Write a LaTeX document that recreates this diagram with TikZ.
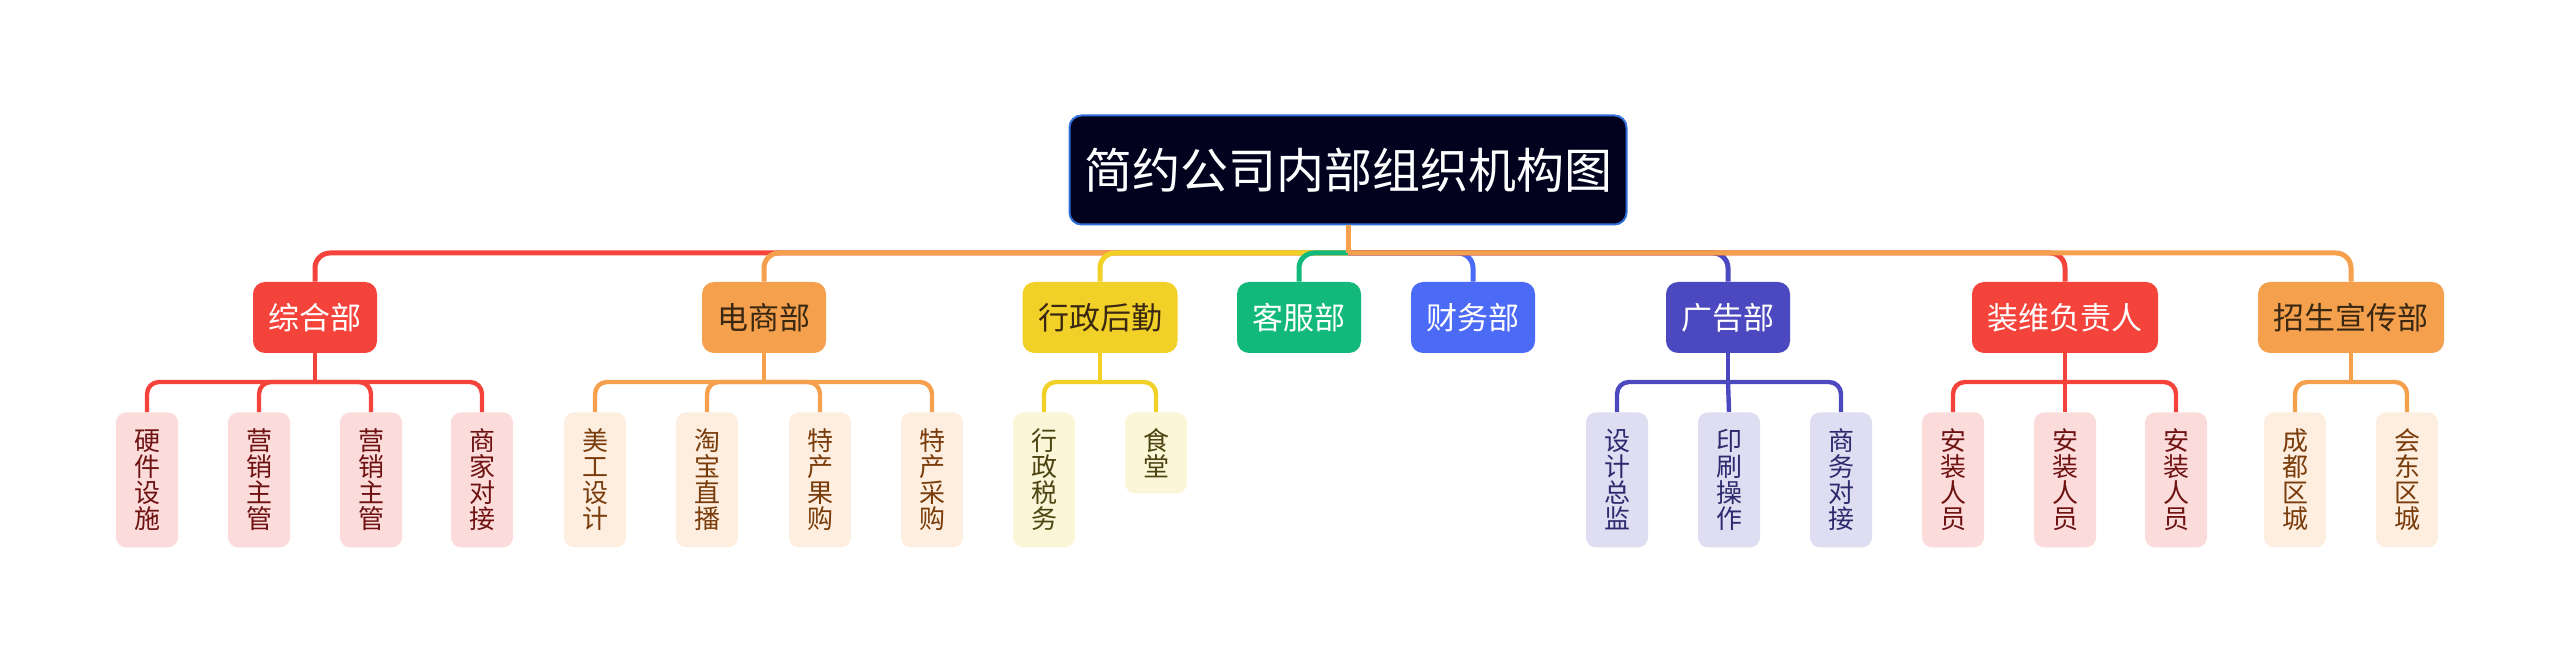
\documentclass[tikz,border=0pt]{standalone}
\usepackage{fontspec}
\setmainfont{Noto Sans CJK SC}
\definecolor{cRed}{HTML}{F4433B}
\definecolor{cOrange}{HTML}{F5A04D}
\definecolor{cYellow}{HTML}{F1D128}
\definecolor{cGreen}{HTML}{12B97B}
\definecolor{cBlue}{HTML}{4B6BF7}
\definecolor{cIndigo}{HTML}{4C48BF}
\definecolor{rootFill}{HTML}{02021F}
\definecolor{rootLine}{HTML}{2F6FD8}
\definecolor{pinkLeaf}{HTML}{FCDCDB}
\definecolor{peachLeaf}{HTML}{FDEEE0}
\definecolor{creamLeaf}{HTML}{FCF6D8}
\definecolor{lilacLeaf}{HTML}{DEDDF2}
\definecolor{redText}{HTML}{6E1212}
\definecolor{brownText}{HTML}{7A3C0A}
\definecolor{oliveText}{HTML}{4C4411}
\definecolor{navyText}{HTML}{2D2B6E}
\definecolor{darkText}{HTML}{3A2812}
\tikzset{
  dept/.style={rounded corners=6pt, minimum height=35.5pt, inner xsep=7.75pt,
    font=\fontsize{15.5}{16}\selectfont},
  leaf/.style={rounded corners=5pt, anchor=north, minimum width=31pt,
    minimum height=67.5pt, inner sep=0pt, align=center,
    font=\fontsize{13}{13}\selectfont},
  short/.style={minimum height=40.5pt},
  bus/.style={line width=2.5pt, rounded corners=7.5pt},
  twig/.style={line width=2.2pt, rounded corners=6pt}
}
\begin{document}
\begin{tikzpicture}[x=0.5pt,y=-0.5pt]
  \useasboundingbox (0,0) rectangle (2560,663);
  \node[fill=rootFill, draw=rootLine, line width=1pt, rounded corners=6pt,
    minimum width=278.5pt, minimum height=54.5pt, inner xsep=0pt, text=white,
    font=\fontsize{24}{26}\selectfont] (root) at (1348,170) {简约公司内部组织机构图};
  % departments
  \node[dept, fill=cRed, text=white] (zh) at (315,317.5) {综合部};
  \node[dept, fill=cOrange, text=darkText] (ds) at (764,317.5) {电商部};
  \node[dept, fill=cYellow, text=darkText] (xz) at (1100,317.5) {行政后勤};
  \node[dept, fill=cGreen, text=white] (kf) at (1299,317.5) {客服部};
  \node[dept, fill=cBlue, text=white] (cw) at (1473,317.5) {财务部};
  \node[dept, fill=cIndigo, text=white] (gg) at (1728,317.5) {广告部};
  \node[dept, fill=cRed, text=white] (zw) at (2065,317.5) {装维负责人};
  \node[dept, fill=cOrange, text=darkText] (zs) at (2351,317.5) {招生宣传部};
  % leaves
  \node[leaf, fill=pinkLeaf, text=redText] (zh1) at (147,412) {硬\\件\\设\\施};
  \node[leaf, fill=pinkLeaf, text=redText] (zh2) at (259,412) {营\\销\\主\\管};
  \node[leaf, fill=pinkLeaf, text=redText] (zh3) at (371,412) {营\\销\\主\\管};
  \node[leaf, fill=pinkLeaf, text=redText] (zh4) at (482,412) {商\\家\\对\\接};
  \node[leaf, fill=peachLeaf, text=brownText] (ds1) at (595,412) {美\\工\\设\\计};
  \node[leaf, fill=peachLeaf, text=brownText] (ds2) at (707,412) {淘\\宝\\直\\播};
  \node[leaf, fill=peachLeaf, text=brownText] (ds3) at (820,412) {特\\产\\果\\购};
  \node[leaf, fill=peachLeaf, text=brownText] (ds4) at (932,412) {特\\产\\采\\购};
  \node[leaf, fill=creamLeaf, text=oliveText] (xz1) at (1044,412) {行\\政\\税\\务};
  \node[leaf, short, fill=creamLeaf, text=oliveText] (xz2) at (1156,412) {食\\堂};
  \node[leaf, fill=lilacLeaf, text=navyText] (gg1) at (1617,412) {设\\计\\总\\监};
  \node[leaf, fill=lilacLeaf, text=navyText] (gg2) at (1729,412) {印\\刷\\操\\作};
  \node[leaf, fill=lilacLeaf, text=navyText] (gg3) at (1841,412) {商\\务\\对\\接};
  \node[leaf, fill=pinkLeaf, text=redText] (zw1) at (1953,412) {安\\装\\人\\员};
  \node[leaf, fill=pinkLeaf, text=redText] (zw2) at (2065,412) {安\\装\\人\\员};
  \node[leaf, fill=pinkLeaf, text=redText] (zw3) at (2176,412) {安\\装\\人\\员};
  \node[leaf, fill=peachLeaf, text=brownText] (zs1) at (2295,412) {成\\都\\区\\城};
  \node[leaf, fill=peachLeaf, text=brownText] (zs2) at (2407,412) {会\\东\\区\\城};
  % forks
  \coordinate (top) at (1348,253);
  \coordinate (zhb) at (315,382);
  \coordinate (dsb) at (764,382);
  \coordinate (xzb) at (1100,382);
  \coordinate (ggb) at (1728,382);
  \coordinate (zwb) at (2065,382);
  \coordinate (zsb) at (2351,382);
  \begin{scope}[bus]
    \draw[cRed] (top) -| (zh.north);
    \draw[cOrange] (top) -| (ds.north);
    \draw[cYellow] (top) -| (xz.north);
    \draw[cGreen] (top) -| (kf.north);
    \draw[cBlue] (top) -| (cw.north);
    \draw[cIndigo] (top) -| (gg.north);
    \draw[cRed] (top) -| (zw.north);
    \draw[cOrange] (top) -| (zs.north);
    \draw[cOrange, sharp corners] (root.south) -- (top);
  \end{scope}
  \begin{scope}[twig]
    \draw[cRed] (zh.south) -- (zhb);
    \draw[cRed] (zhb) -| (zh1.north);
    \draw[cRed] (zhb) -| (zh2.north);
    \draw[cRed] (zhb) -| (zh3.north);
    \draw[cRed] (zhb) -| (zh4.north);
    \draw[cOrange] (ds.south) -- (dsb);
    \draw[cOrange] (dsb) -| (ds1.north);
    \draw[cOrange] (dsb) -| (ds2.north);
    \draw[cOrange] (dsb) -| (ds3.north);
    \draw[cOrange] (dsb) -| (ds4.north);
    \draw[cYellow] (xz.south) -- (xzb);
    \draw[cYellow] (xzb) -| (xz1.north);
    \draw[cYellow] (xzb) -| (xz2.north);
    \draw[cIndigo] (gg.south) -- (ggb);
    \draw[cIndigo] (ggb) -| (gg1.north);
    \draw[cIndigo] (ggb) -- (gg2.north);
    \draw[cIndigo] (ggb) -| (gg3.north);
    \draw[cRed] (zw.south) -- (zwb);
    \draw[cRed] (zwb) -| (zw1.north);
    \draw[cRed] (zwb) -- (zw2.north);
    \draw[cRed] (zwb) -| (zw3.north);
    \draw[cOrange] (zs.south) -- (zsb);
    \draw[cOrange] (zsb) -| (zs1.north);
    \draw[cOrange] (zsb) -| (zs2.north);
  \end{scope}
\end{tikzpicture}
\end{document}
